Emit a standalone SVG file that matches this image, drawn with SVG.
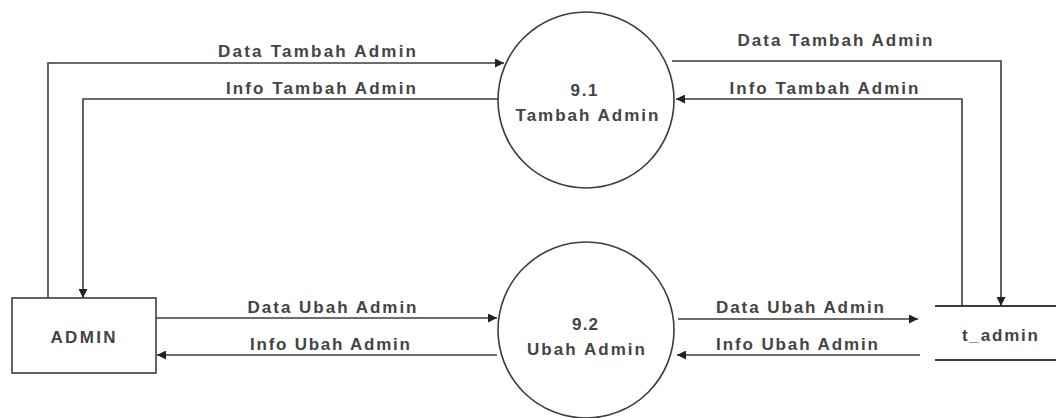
<svg xmlns="http://www.w3.org/2000/svg" width="1056" height="418" viewBox="0 0 1056 418">
  <defs>
    <marker id="arrow" viewBox="0 0 10 10" refX="10" refY="5" markerWidth="9" markerHeight="9" markerUnits="userSpaceOnUse" orient="auto">
      <path d="M0,0 L10,5 L0,10 z" fill="#222"/>
    </marker>
    <style>
      .flow { fill: none; stroke: #3c3c3c; stroke-width: 1.6; }
      .arr { marker-end: url(#arrow); }
      .shape { fill: #ffffff; stroke: #3c3c3c; stroke-width: 1.6; }
      .store { fill: none; stroke: #3c3c3c; stroke-width: 2; }
      text { font-family: "Liberation Sans", Arial, sans-serif; font-size: 17px; font-weight: bold; fill: #444; text-anchor: middle; }
    </style>
  </defs>

  <rect width="1056" height="418" fill="#ffffff"/>

  <!-- data flows -->
  <g id="connectors">
    <polyline class="flow arr" points="48,298 48,63 504,63"/>
    <polyline class="flow arr" points="498,99 83,99 83,298"/>
    <polyline class="flow arr" points="672,61 1001,61 1001,306"/>
    <polyline class="flow arr" points="962,306 962,99 676,99"/>
    <polyline class="flow arr" points="156,318 497,318"/>
    <polyline class="flow arr" points="497,355 157,355"/>
    <polyline class="flow arr" points="678,319 918,319"/>
    <polyline class="flow arr" points="920,355 677,355"/>
  </g>

  <!-- flow labels -->
  <g id="labels">
    <text x="317" y="57" textLength="198" lengthAdjust="spacing">Data Tambah Admin</text>
    <text x="321" y="94" textLength="190" lengthAdjust="spacing">Info Tambah Admin</text>
    <text x="835" y="46" textLength="195" lengthAdjust="spacing">Data Tambah Admin</text>
    <text x="824" y="94" textLength="189" lengthAdjust="spacing">Info Tambah Admin</text>
    <text x="332" y="313" textLength="169" lengthAdjust="spacing">Data Ubah Admin</text>
    <text x="330" y="350" textLength="160" lengthAdjust="spacing">Info Ubah Admin</text>
    <text x="800" y="313" textLength="168" lengthAdjust="spacing">Data Ubah Admin</text>
    <text x="797" y="350" textLength="162" lengthAdjust="spacing">Info Ubah Admin</text>
  </g>

  <!-- process 9.1 -->
  <g id="proc-9-1">
    <circle class="shape" cx="586" cy="100" r="88"/>
    <text x="584" y="96" textLength="27" lengthAdjust="spacing">9.1</text>
    <text x="587" y="121" textLength="143" lengthAdjust="spacing">Tambah Admin</text>
  </g>

  <!-- process 9.2 -->
  <g id="proc-9-2">
    <circle class="shape" cx="586" cy="330" r="88"/>
    <text x="585" y="330" textLength="26" lengthAdjust="spacing">9.2</text>
    <text x="586" y="355" textLength="118" lengthAdjust="spacing">Ubah Admin</text>
  </g>

  <!-- external entity -->
  <g id="admin">
    <rect class="shape" x="12" y="298" width="144" height="75"/>
    <text x="83" y="343" textLength="65" lengthAdjust="spacing">ADMIN</text>
  </g>

  <!-- data store -->
  <g id="t_admin">
    <line class="store" x1="935" y1="306" x2="1056" y2="306"/>
    <line class="store" x1="935" y1="360" x2="1056" y2="360"/>
    <text x="1000" y="341" textLength="76" lengthAdjust="spacing">t_admin</text>
  </g>
</svg>
